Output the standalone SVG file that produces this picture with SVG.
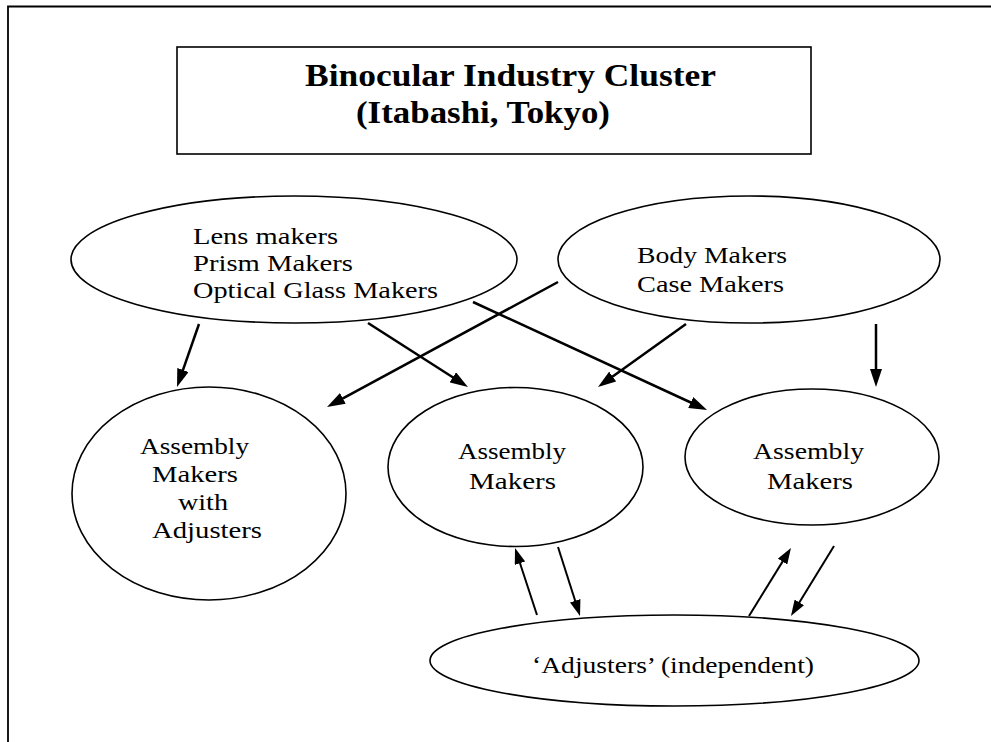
<svg xmlns="http://www.w3.org/2000/svg" width="991" height="742" viewBox="0 0 991 742">
<style>
.shape{fill:#fff;stroke:#000;stroke-width:1.6}
.t{font-family:"Liberation Serif","Times New Roman",serif;font-size:24px;fill:#000}
.title{font-family:"Liberation Serif","Times New Roman",serif;font-size:31px;font-weight:bold;fill:#000}
.c1{stroke:#000;stroke-width:2.5;fill:none;marker-end:url(#ah1)}
.c2{stroke:#000;stroke-width:2;fill:none;marker-end:url(#ah2)}
</style>
<defs>
<marker id="ah1" markerUnits="userSpaceOnUse" markerWidth="18" markerHeight="12" refX="12" refY="6" orient="auto">
<path d="M0,0 L18,6 L0,12 z" fill="#000"/>
</marker>
<marker id="ah2" markerUnits="userSpaceOnUse" markerWidth="16" markerHeight="11" refX="10" refY="5.5" orient="auto">
<path d="M0,0 L16,5.5 L0,11 z" fill="#000"/>
</marker>
</defs>
<rect width="991" height="742" fill="#fff"/>
<g id="frame">
<path d="M8,742 L8,6.5 L991,6.5" fill="none" stroke="#000" stroke-width="1.8"/>
</g>
<g id="title">
<rect class="shape" x="177" y="47" width="634" height="107"/>
<text class="title" x="305" y="86" textLength="411" lengthAdjust="spacingAndGlyphs">Binocular Industry Cluster</text>
<text class="title" x="356" y="123" textLength="254" lengthAdjust="spacingAndGlyphs">(Itabashi, Tokyo)</text>
</g>
<g id="lens">
<ellipse class="shape" cx="294" cy="259.5" rx="223" ry="63.5"/>
<text class="t" x="193" y="244" textLength="145" lengthAdjust="spacingAndGlyphs">Lens makers</text>
<text class="t" x="193" y="271" textLength="160" lengthAdjust="spacingAndGlyphs">Prism Makers</text>
<text class="t" x="193" y="298" textLength="245" lengthAdjust="spacingAndGlyphs">Optical Glass Makers</text>
</g>
<g id="body">
<ellipse class="shape" cx="749" cy="259.5" rx="191" ry="63.5"/>
<text class="t" x="637" y="263" textLength="150" lengthAdjust="spacingAndGlyphs">Body Makers</text>
<text class="t" x="637" y="292" textLength="147" lengthAdjust="spacingAndGlyphs">Case Makers</text>
</g>
<g id="assembly-adj">
<ellipse class="shape" cx="209" cy="493.5" rx="137" ry="106.5"/>
<text class="t" x="140" y="454" textLength="109" lengthAdjust="spacingAndGlyphs">Assembly</text>
<text class="t" x="152" y="482" textLength="86" lengthAdjust="spacingAndGlyphs">Makers</text>
<text class="t" x="178" y="510" textLength="50" lengthAdjust="spacingAndGlyphs">with</text>
<text class="t" x="152" y="538" textLength="110" lengthAdjust="spacingAndGlyphs">Adjusters</text>
</g>
<g id="assembly-mid">
<ellipse class="shape" cx="515.5" cy="467" rx="127.5" ry="79.5"/>
<text class="t" x="458" y="459" textLength="108" lengthAdjust="spacingAndGlyphs">Assembly</text>
<text class="t" x="469" y="489" textLength="87" lengthAdjust="spacingAndGlyphs">Makers</text>
</g>
<g id="assembly-right">
<ellipse class="shape" cx="812" cy="457" rx="127" ry="68"/>
<text class="t" x="753" y="459" textLength="111" lengthAdjust="spacingAndGlyphs">Assembly</text>
<text class="t" x="767" y="489" textLength="86" lengthAdjust="spacingAndGlyphs">Makers</text>
</g>
<g id="adjusters">
<ellipse class="shape" cx="674.5" cy="660.5" rx="244.5" ry="45.5"/>
<text class="t" x="532" y="673" textLength="282" lengthAdjust="spacingAndGlyphs">‘Adjusters’ (independent)</text>
</g>
<g id="connectors">
<line class="c1" x1="199" y1="324" x2="179" y2="381.3"/>
<line class="c1" x1="368" y1="323" x2="462.9" y2="383.8"/>
<line class="c1" x1="473" y1="302" x2="701.6" y2="407.5"/>
<line class="c1" x1="558" y1="282" x2="332.3" y2="404.1"/>
<line class="c1" x1="686" y1="324" x2="602.9" y2="383.5"/>
<line class="c1" x1="876" y1="324" x2="876" y2="381"/>
<line class="c2" x1="537" y1="615" x2="516.9" y2="553.7"/>
<line class="c2" x1="558" y1="547" x2="578.2" y2="610.3"/>
<line class="c2" x1="749" y1="616" x2="787.8" y2="553.1"/>
<line class="c2" x1="834" y1="546" x2="794.1" y2="610.9"/>
</g>
</svg>
